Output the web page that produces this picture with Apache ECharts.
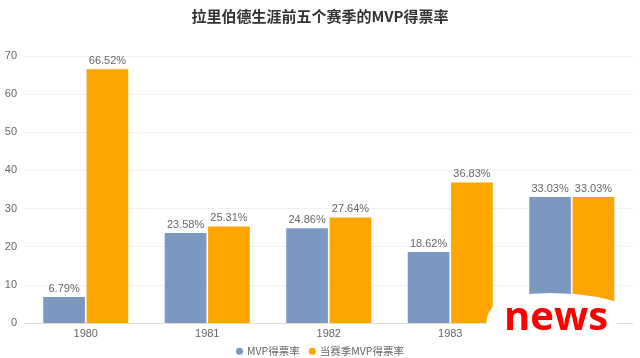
<!DOCTYPE html>
<html><head><meta charset="utf-8">
<script src="https://cdn.jsdelivr.net/npm/echarts@6/dist/echarts.min.js"></script>
<style>html,body{margin:0;padding:0;background:#fff}#c{width:640px;height:358px}</style>
</head><body><div id="c"></div>
<script>
const categories = ['1980', '1981', '1982', '1983', '1984'];
const mvpShare = [6.79, 23.58, 24.86, 18.62, 33.03];
const seasonMvpShare = [66.52, 25.31, 27.64, 36.83, 33.03];
const seriesNames = ['MVP得票率', '当赛季MVP得票率'];
const titleText = '拉里伯德生涯前五个赛季的MVP得票率';

const chart = echarts.init(document.getElementById('c'), null, {renderer: 'canvas'});
const labelStyle = {show: true, position: 'top', formatter: '{c}%', color: '#666', fontSize: 11, distance: 3};
chart.setOption({
  animation: false,
  title: {text: titleText, left: 'center', top: 4, textStyle: {fontSize: 15, fontWeight: 'bold', color: '#333', fontFamily: 'Noto Sans CJK SC'}},
  legend: {top: 341, itemWidth: 7, itemHeight: 7, icon: 'circle', itemGap: 9, textStyle: {color: '#666', fontSize: 10.5, fontFamily: 'Noto Sans CJK SC', padding: [0, 0, 0, -1]}},
  grid: {left: 25, right: 7.5, top: 56, bottom: 35, containLabel: false},
  xAxis: {type: 'category', data: categories,
    axisLine: {lineStyle: {color: '#ddd'}},
    axisTick: {alignWithLabel: true, lineStyle: {color: '#ddd'}},
    axisLabel: {color: '#666', fontSize: 11, margin: 5}},
  yAxis: {type: 'value', min: 0, max: 70, interval: 10,
    axisLine: {show: false}, axisTick: {show: false},
    axisLabel: {color: '#666', fontSize: 11, margin: 8},
    splitLine: {lineStyle: {color: '#f0f0f0'}}},
  series: [
    {name: seriesNames[0], type: 'bar', data: mvpShare, barGap: '4%', barCategoryGap: '30%',
     itemStyle: {color: '#7b98c1'}, label: labelStyle},
    {name: seriesNames[1], type: 'bar', data: seasonMvpShare,
     itemStyle: {color: '#ffa500'}, label: labelStyle}
  ],
  graphic: [
    {type: 'polygon', z: 100, shape: {points: [[486,358],[486,324],[488,314],[493,306],[501,300],[512,296],[528,294],[550,293],[575,294],[598,297],[617,302],[617,358]]}, style: {fill: '#fff'}},
    {type: 'text', z: 101, left: 504, top: 299, style: {text: 'news', fill: '#ff0000', font: 'bold 40px "Open Sans"'}}
  ]
});
</script></body></html>
